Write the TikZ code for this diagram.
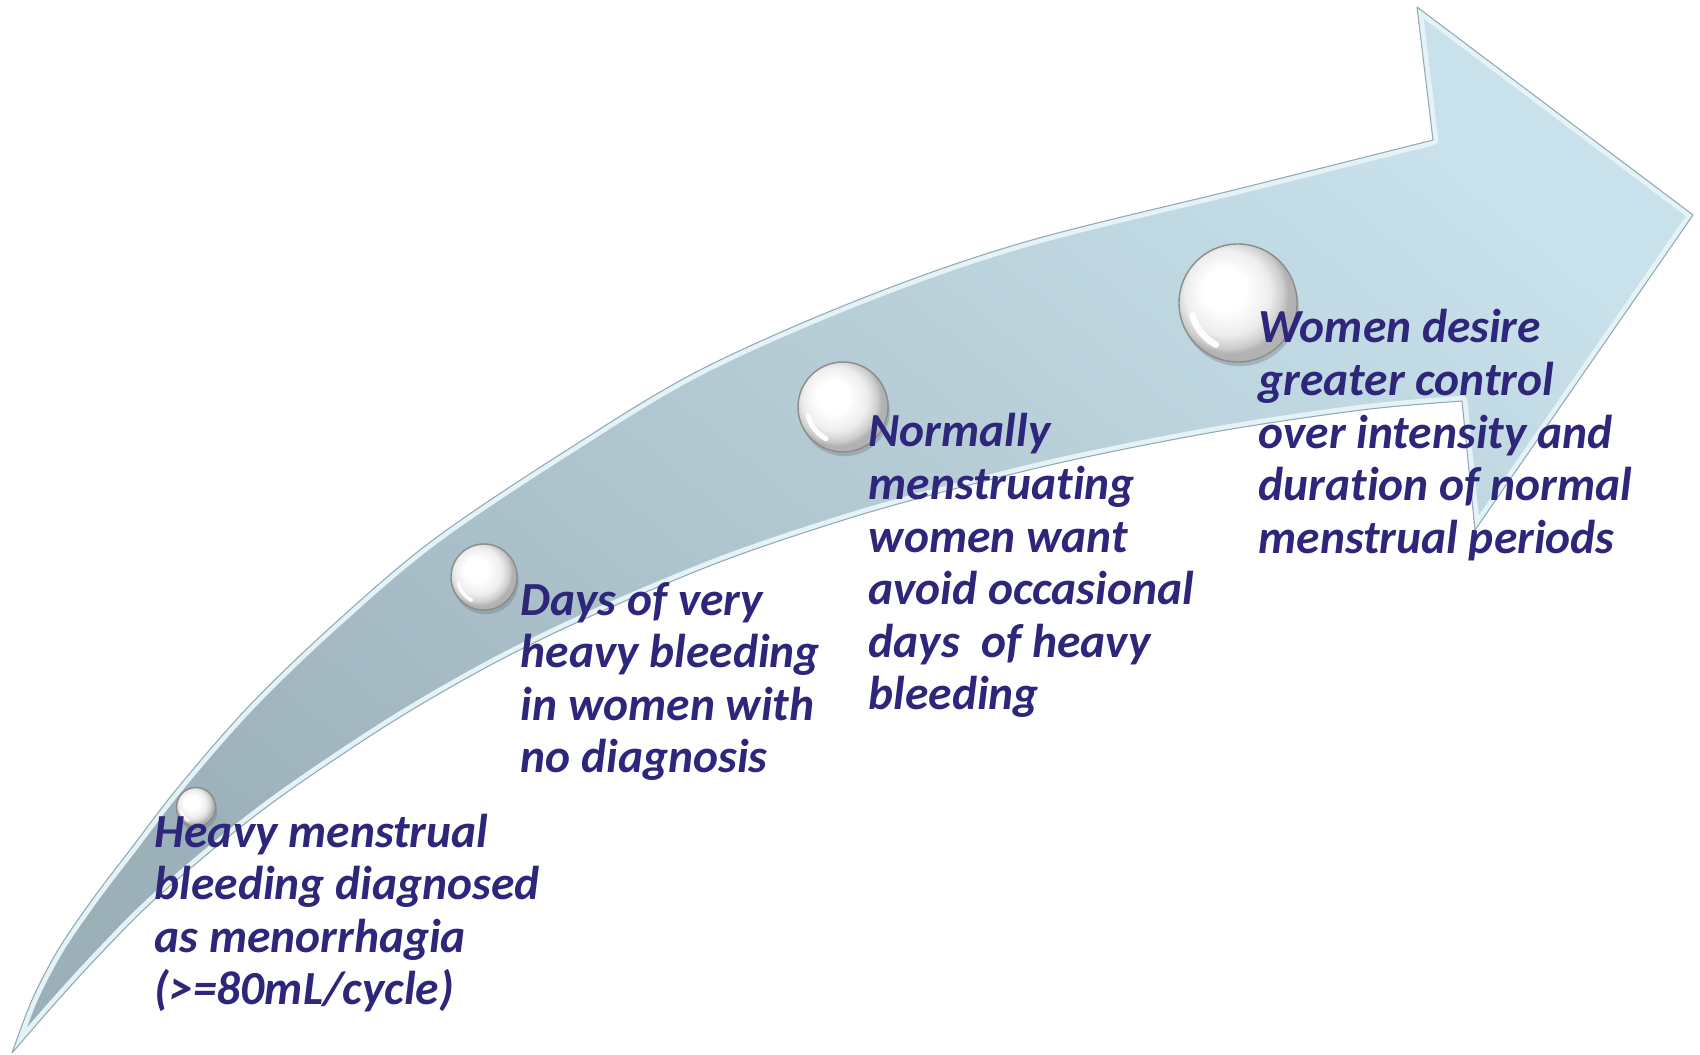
\documentclass[tikz,border=0pt]{standalone}
\usepackage{fontspec}
\setmainfont{Carlito}[Ligatures=NoCommon]
\usetikzlibrary{shadows}
\definecolor{txtcol}{RGB}{46,38,122}
\definecolor{arrowLight}{RGB}{200,225,234}
\definecolor{arrowDark}{RGB}{156,176,186}
\definecolor{edgeGray}{RGB}{150,168,176}
\definecolor{edgeLight}{RGB}{228,243,248}
\pgfdeclareradialshading{pearl}{\pgfpoint{-7bp}{7bp}}{color(0bp)=(white); color(9bp)=(white); color(18bp)=(black!7); color(23bp)=(black!20); color(25bp)=(black!30); color(50bp)=(black!30)}
\newcommand{\ArrowShape}{plot[smooth, tension=0.55] coordinates {(12,1053) (32,1000) (58,950) (92,900) (130,850) (180,785) (250,705) (333,625) (433,540) (567,450) (700,370) (863,298) (1025,242) (1242,188) (1433,140)} -- (1417,7) -- (1693,215) -- (1475,530) -- (1462,401) -- plot[smooth, tension=0.55] coordinates {(1462,401) (1370,409) (1250,426) (1150,444) (1050,465) (950,490) (850,518) (725,560) (600,612) (500,660) (400,717) (300,783) (233,833) (154,900) (104,950) (58,1000) (12,1053)} -- cycle}
\tikzset{
  pearlball/.style={circle, shade, shading=pearl, draw=black!45, line width=0.4pt, inner sep=0pt,
    drop shadow={shadow xshift=0.5pt, shadow yshift=-1.2pt, opacity=0.3, fill=black!60}},
  caption/.style={anchor=base west, inner sep=0pt, text=txtcol,
    font=\fontsize{13.5}{14.95}\selectfont\bfseries\itshape},
}
\begin{document}
\begin{tikzpicture}[x=0.01cm, y=-0.01cm]
\useasboundingbox (0,0) rectangle (1700,1055);
\fill[white] (0,0) rectangle (1700,1055);
% arrow body
\shade[top color=arrowLight, bottom color=arrowDark, shading angle=-40] \ArrowShape;
\begin{scope}
  \clip \ArrowShape;
  \draw[edgeLight, line width=3pt, line join=round] \ArrowShape;
\end{scope}
\draw[edgeGray, line width=0.3pt, line join=round] \ArrowShape;
% spheres
\foreach \n/\x/\y/\r in {s1/196/807/19.5, s2/484/577/33, s3/843/407/45, s4/1238/303/59} {
  \node[pearlball, minimum size=2*\r*0.01cm] (\n) at (\x,\y) {};
  \draw[white, line width=0.11*\r*0.2845pt, line cap=round, opacity=0.95]
    (\n.center) ++(165:0.8*\r) arc (165:118:0.8*\r);
}
% captions
\node[caption] (t1) at (154,847) {\parbox[t]{6cm}{Heavy menstrual\\bleeding diagnosed\\as menorrhagia\\(>=80mL/cycle)}};
\node[caption] (t2) at (520,615) {\parbox[t]{6cm}{Days of very\\heavy bleeding\\in women with\\no diagnosis}};
\node[caption] (t3) at (868,447) {\parbox[t]{6cm}{Normally\\menstruating\\women want\\avoid occasional\\days\ \ of heavy\\bleeding}};
\node[caption] (t4) at (1258,343) {\parbox[t]{6cm}{Women desire\\greater control\\over intensity and\\duration of normal\\menstrual periods}};
\end{tikzpicture}
\end{document}
